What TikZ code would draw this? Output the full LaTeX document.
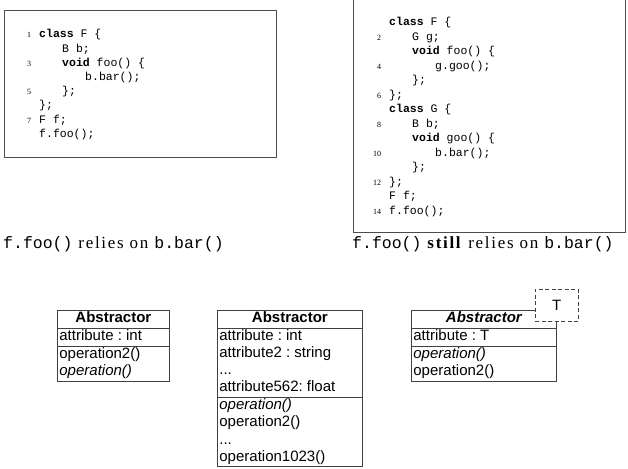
\documentclass[tikz,border=0pt]{standalone}
\usepackage{fontspec}
\setmainfont{Liberation Serif}
\setsansfont{Liberation Sans}
\setmonofont{Liberation Mono}
\usetikzlibrary{shapes.multipart}

\newcommand\umlfont{\sffamily\fontsize{15}{17.1}\selectfont\frenchspacing}
\newcommand\umlhead[2]{\parbox{#1}{\centering\strut #2}}
\newcommand\umlrows[2]{\parbox{#1}{\raggedright #2}}
\newcommand\lno[1]{\makebox[12pt][r]{\rmfamily\fontsize{8}{10}\selectfont #1}}
\newcommand\kw[1]{\textbf{#1}}
\newcommand\indA{\hspace*{23pt}}
\newcommand\indB{\hspace*{46pt}}
\newcommand\capmono[1]{{\ttfamily\fontsize{16.5}{19}\selectfont #1}}

\tikzset{
  codebox/.style={draw=black!70, line width=0.9pt, inner sep=0pt},
  listing/.style={anchor=base west, inner sep=0pt},
  caption/.style={anchor=base west, inner sep=0pt,
    font=\fontsize{17}{20}\selectfont\addfontfeature{LetterSpace=10}},
  umlclass/.style={rectangle split, rectangle split parts=3, draw=black!75,
    line width=0.8pt, inner xsep=2pt, inner ysep=0pt, font=\umlfont,
    anchor=north west},
  tparambox/.style={draw=black!75, dash pattern=on 4pt off 2.5pt, line width=0.8pt,
    fill=white, font=\umlfont, minimum width=43pt, minimum height=32pt}
}

\begin{document}
\begin{tikzpicture}[x=1pt, y=-1pt]
    \fill[white] (0,0) rectangle (628,468);
    \useasboundingbox (0,0) rectangle (628,468);

    % Code frames
    \node[codebox, anchor=north west, minimum width=272pt, minimum height=147pt] (plainframe) at (4,10) {};
    \node[codebox, anchor=south west, minimum width=272pt, minimum height=245pt] (splitframe) at (353,233) {};

    % Listing without G
    \node[listing] (plaincode) at (19,38) {\ttfamily\fontsize{11.5}{14.2}\selectfont
      \begin{tabular}[t]{@{}l@{\hspace{8pt}}l@{}}
        \lno{1} & \kw{class} F \{ \\
                & \indA B b; \\
        \lno{3} & \indA\kw{void} foo() \{ \\
                & \indB b.bar(); \\
        \lno{5} & \indA\}; \\
                & \}; \\
        \lno{7} & F f; \\
                & f.foo(); \\
      \end{tabular}};

    % Listing with G in between
    \node[listing] (splitcode) at (369,26) {\ttfamily\fontsize{11.5}{14.5}\selectfont
      \begin{tabular}[t]{@{}l@{\hspace{8pt}}l@{}}
                 & \kw{class} F \{ \\
        \lno{2}  & \indA G g; \\
                 & \indA\kw{void} foo() \{ \\
        \lno{4}  & \indB g.goo(); \\
                 & \indA\}; \\
        \lno{6}  & \}; \\
                 & \kw{class} G \{ \\
        \lno{8}  & \indA B b; \\
                 & \indA\kw{void} goo() \{ \\
        \lno{10} & \indB b.bar(); \\
                 & \indA\}; \\
        \lno{12} & \}; \\
                 & F f; \\
        \lno{14} & f.foo(); \\
      \end{tabular}};

    % Captions
    \node[caption] (plaincap) at (3,248) {\capmono{f.foo()} relies on \capmono{b.bar()}};
    \node[caption] (splitcap) at (352,248) {\capmono{f.foo()} \textbf{still} relies on \capmono{b.bar()}};

    % Class boxes
    \node[umlclass] (absplain) at (57,310)
      {\umlhead{108pt}{\bfseries Abstractor}
       \nodepart{two}\umlrows{108pt}{\strut attribute : int}
       \nodepart{three}\umlrows{108pt}{\strut operation2()\\\strut\textit{operation()}}};
    \node[umlclass] (abslong) at (217,310)
      {\umlhead{141pt}{\bfseries Abstractor}
       \nodepart{two}\umlrows{141pt}{\strut attribute : int\\\strut attribute2 : string\\\strut ...\\\strut attribute562: float}
       \nodepart{three}\umlrows{141pt}{\strut\textit{operation()}\\\strut operation2()\\\strut ...\\\strut operation1023()}};
    \node[umlclass] (absgen) at (411,310)
      {\umlhead{141pt}{\bfseries\itshape Abstractor}
       \nodepart{two}\umlrows{141pt}{\strut attribute : T}
       \nodepart{three}\umlrows{141pt}{\strut\textit{operation()}\\\strut operation2()}};

    % Template parameter
    \node[tparambox] (tparam) at ([yshift=5pt]absgen.north east) {T};
\end{tikzpicture}
\end{document}
